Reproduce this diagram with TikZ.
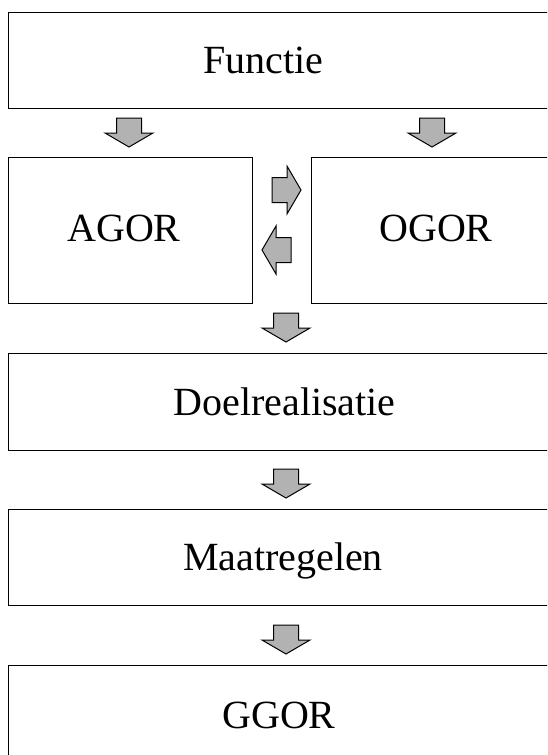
\documentclass[tikz,border=0pt]{standalone}
\usepackage{fontspec}
\setmainfont{Liberation Serif}
\begin{document}
\begin{tikzpicture}[x=1pt,y=-1pt,
  box/.style={draw=black, line width=1.2pt, rectangle, inner sep=0pt, anchor=north west},
  lbl/.style={anchor=base, inner sep=0pt, font=\fontsize{40}{48}\selectfont},
  arrowfill/.style={draw=black, line width=1pt, fill=black!30, line join=miter},
  pics/blockarrow/.style={code={
    \draw[arrowfill] (0,-12.5) -- (15,-12.5) -- (15,-24) -- (29,0) -- (15,24) -- (15,12.5) -- (0,12.5) -- cycle;}}
]
\useasboundingbox (0,0) rectangle (547,755);
\clip (0,0) rectangle (547,755);
\fill[white] (0,0) rectangle (547,755);

% boxes
\node[box, minimum width=560pt, minimum height=96.3pt] (functie) at (8,11.7) {};
\node[box, minimum width=243.7pt, minimum height=146pt] (agor) at (8,157) {};
\node[box, minimum width=260pt, minimum height=146pt] (ogor) at (311,157) {};
\node[box, minimum width=560pt, minimum height=97pt] (doel) at (8,353) {};
\node[box, minimum width=560pt, minimum height=96pt] (maat) at (8,509) {};
\node[box, minimum width=560pt, minimum height=100pt] (ggor) at (8,665) {};

% labels
\node[lbl] (tfunctie) at (263.5,73.3) {Functie};
\node[lbl] (tagor) at (124,241) {AGOR};
\node[lbl] (togor) at (436,241) {OGOR};
\node[lbl] (tdoel) at (284.5,415) {Doelrealisatie};
\node[lbl] (tmaat) at (283,570) {Maatregelen};
\node[lbl] (tggor) at (279,728) {GGOR};

% block arrows
\pic[rotate=-90] at (129,118) {blockarrow};
\pic[rotate=-90] at (432,118) {blockarrow};
\pic at (272,190) {blockarrow};
\pic[rotate=180] at (291,250) {blockarrow};
\pic[rotate=-90] at (286,313) {blockarrow};
\pic[rotate=-90] at (286,469) {blockarrow};
\pic[rotate=-90] at (286,625) {blockarrow};
\end{tikzpicture}
\end{document}
